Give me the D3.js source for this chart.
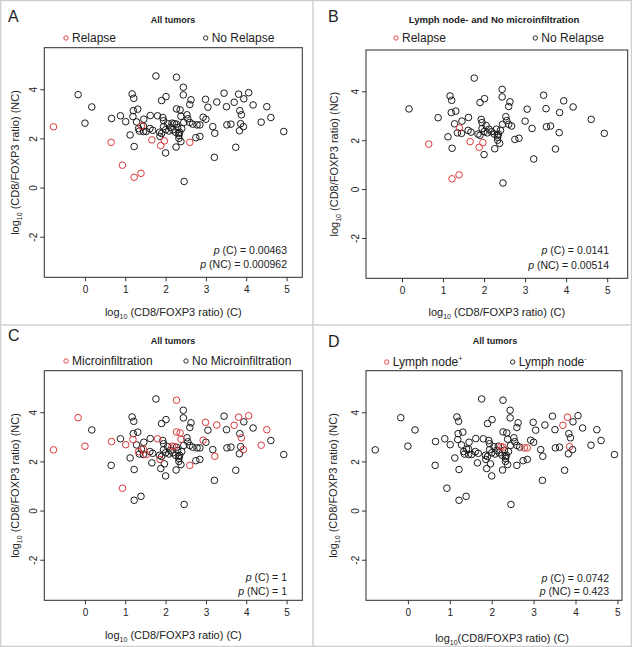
<!DOCTYPE html>
<html>
<head>
<meta charset="utf-8">
<script src="https://cdn.jsdelivr.net/npm/d3@7"></script>
<style>
    body { margin: 0; background: #fff; }
    text { font-family: "Liberation Sans", Arial, sans-serif; fill: #222; }
</style>
</head>
<body>
<svg id="main-svg" width="632" height="647"></svg>
<script>
// log10 CD8/FOXP3 ratio, cancer (C) and non-cancer (NC) tissue, one entry per tumor
let logC = [
    -0.78, -0.17, 0.00, 0.17, 0.65, 0.66, 0.88, 0.93, 1.01, 1.12,
    1.17, 1.21, 1.20, 1.19, 1.22, 1.22, 1.31, 1.28, 1.39, 1.40,
    1.35, 1.46, 1.45, 1.33, 1.45, 1.52, 1.61, 1.62, 1.66, 1.68,
    1.76, 1.80, 1.85, 1.88, 1.90, 1.86, 1.90, 1.93, 1.95, 1.97,
    2.00, 2.01, 2.00, 1.95, 2.05, 2.08, 2.12, 2.16, 2.22, 2.27,
    2.18, 2.25, 2.27, 2.27, 2.26, 2.33, 2.33, 2.35, 2.36, 2.38,
    2.38, 2.33, 2.44, 2.44, 2.46, 2.45, 2.40, 2.30, 2.53, 2.55,
    2.60, 2.63, 2.60, 2.60, 2.67, 2.75, 2.78, 2.85, 2.85, 2.93,
    2.99, 3.00, 3.05, 3.17, 3.22, 3.21, 3.27, 3.45, 3.51, 3.52,
    3.62, 3.70, 3.74, 3.81, 3.84, 3.88, 3.86, 3.83, 3.93, 3.94,
    4.06, 4.17, 4.37, 4.51, 4.61, 4.93
];
let logNC = [
    2.47, 3.78, 2.62, 3.28, 1.84, 2.81, 2.92, 0.91, 2.68, 2.14,
    3.81, 3.63, 3.13, 2.89, 1.67, 0.42, 3.19, 2.67, 0.58, 2.50,
    2.30, 2.78, 2.28, 2.40, 2.50, 2.28, 2.40, 2.93, 1.94, 2.33,
    4.54, 2.92, 2.25, 1.71, 3.54, 2.08, 2.20, 2.85, 2.72, 1.90,
    1.41, 3.70, 2.35, 2.48, 2.60, 2.30, 2.45, 2.62, 2.60, 2.58,
    2.35, 2.25, 4.49, 3.20, 1.65, 2.20, 2.12, 2.25, 3.16, 2.90,
    1.87, 2.00, 4.08, 3.77, 0.25, 2.65, 2.40, 2.45, 2.96, 2.80,
    3.38, 3.57, 1.84, 2.65, 2.58, 2.03, 2.55, 2.55, 2.08, 2.86,
    3.59, 2.78, 3.27, 2.48, 2.21, 1.23, 3.48, 3.84, 3.29, 2.55,
    2.58, 3.47, 1.64, 3.80, 3.13, 2.96, 2.60, 2.31, 2.48, 3.61,
    3.86, 3.36, 2.66, 3.29, 2.85, 2.28
];
// 1 = relapse
let relapse = [
    1, 0, 0, 0, 1, 0, 0, 1, 0, 0,
    0, 0, 0, 0, 0, 1, 0, 0, 1, 1,
    0, 0, 0, 0, 0, 0, 0, 0, 1, 0,
    0, 0, 0, 1, 0, 0, 0, 0, 0, 1,
    0, 0, 0, 0, 0, 0, 0, 0, 0, 0,
    0, 0, 0, 0, 0, 0, 0, 0, 0, 0,
    0, 0, 0, 0, 0, 0, 0, 0, 0, 0,
    0, 0, 1, 0, 0, 0, 0, 0, 0, 0,
    0, 0, 0, 0, 0, 0, 0, 0, 0, 0,
    0, 0, 0, 0, 0, 0, 0, 0, 0, 0,
    0, 0, 0, 0, 0, 0
];
// 1 = microinfiltration
let micro = [
    1, 1, 1, 0, 0, 1, 0, 1, 1, 0,
    0, 0, 0, 1, 0, 0, 0, 0, 0, 0,
    0, 0, 0, 1, 1, 1, 0, 0, 0, 0,
    0, 1, 0, 0, 0, 1, 0, 0, 0, 0,
    0, 0, 0, 0, 0, 0, 0, 1, 1, 0,
    0, 0, 1, 1, 0, 0, 0, 0, 1, 1,
    0, 0, 0, 0, 0, 0, 0, 0, 0, 0,
    0, 0, 1, 0, 0, 0, 0, 0, 0, 1,
    1, 0, 0, 0, 1, 0, 1, 0, 0, 0,
    0, 1, 0, 1, 0, 1, 0, 0, 1, 0,
    1, 0, 1, 1, 0, 0
];
// 1 = lymph node positive
let lymphNode = [
    0, 0, 0, 0, 0, 0, 0, 0, 0, 0,
    0, 0, 0, 0, 0, 0, 0, 0, 0, 0,
    0, 0, 0, 0, 0, 0, 0, 0, 0, 0,
    0, 0, 0, 0, 0, 0, 0, 0, 0, 0,
    0, 0, 0, 0, 0, 0, 0, 0, 1, 1,
    0, 0, 0, 0, 0, 0, 0, 0, 0, 0,
    0, 0, 0, 0, 0, 0, 0, 0, 0, 0,
    0, 0, 0, 0, 0, 0, 1, 1, 0, 0,
    0, 0, 0, 0, 0, 0, 0, 0, 0, 0,
    0, 1, 0, 1, 0, 0, 1, 0, 0, 0,
    0, 0, 0, 0, 0, 0
];

let X_TICKS = [0, 1, 2, 3, 4, 5];
let Y_TICKS = [-2, 0, 2, 4];
let Y_DOMAIN = [-3.65, 5.69];

let RED = '#dc3a3c';
let BLACK = '#1c1c1c';

// panel layout: box = [left, top, right, bottom] in px
let PANELS = [
    {
        letter: 'A', lx: 8, ly: 22,
        title: 'All tumors', tx: 173, ty: 23, tsize: 9,
        box: [44.3, 47.7, 302.3, 277.3], xDomain: [-1.008, 5.39],
        group: 'relapse', subset: 'all',
        legend: [{ label: 'Relapse', x: 66, red: true }, { label: 'No Relapse', x: 205.7 }], legY: 38,
        pvals: ['(C) = 0.00463', '(NC) = 0.000962'], px: 287, py: [254, 268],
        yLabX: 19, xLabY: 316, xLabText: '  (CD8/FOXP3 ratio) (C)', xLabShift: 0
    },
    {
        letter: 'B', lx: 328, ly: 22,
        title: 'Lymph node- and No microinfiltration', tx: 494, ty: 23, tsize: 9.6,
        box: [366, 50, 627.7, 278.3], xDomain: [-0.878, 5.50],
        group: 'relapse', subset: 'negative',
        legend: [{ label: 'Relapse', x: 396, red: true }, { label: 'No Relapse', x: 535.3 }], legY: 38,
        pvals: ['(C) = 0.0141', '(NC) = 0.00514'], px: 609, py: [254, 269],
        yLabX: 338, xLabY: 316, xLabText: ' (CD8/FOXP3 ratio) (C)', xLabShift: 0
    },
    {
        letter: 'C', lx: 8, ly: 341,
        title: 'All tumors', tx: 173, ty: 344, tsize: 9,
        box: [44.3, 370.7, 302.3, 600.3], xDomain: [-1.008, 5.39],
        group: 'micro', subset: 'all',
        legend: [{ label: 'Microinfiltration', x: 66, red: true }, { label: 'No Microinfiltration', x: 186 }], legY: 361,
        pvals: ['(C) = 1', '(NC) =  1'], px: 287, py: [581, 595],
        yLabX: 19, xLabY: 639, xLabText: ' (CD8/FOXP3 ratio) (C)', xLabShift: 0
    },
    {
        letter: 'D', lx: 328, ly: 347,
        title: 'All tumors', tx: 495, ty: 344, tsize: 9,
        box: [366, 370.7, 622, 600.3], xDomain: [-1.0, 5.11],
        group: 'lymph', subset: 'all',
        legend: [{ label: 'Lymph node', sup: '+', x: 386.7, red: true }, { label: 'Lymph node', sup: '-', x: 512.7 }], legY: 362,
        pvals: ['(C) = 0.0742', '(NC) = 0.423'], px: 609, py: [582, 595],
        yLabX: 337, xLabY: 642, xLabText: '(CD8/FOXP3 ratio) (C)', xLabShift: 8
    }
];

let tumors = logC.map((c, i) => ({
    c: c,
    nc: logNC[i],
    relapse: relapse[i] === 1,
    micro: micro[i] === 1,
    lymph: lymphNode[i] === 1
}));

let svg = d3.select('#main-svg');

// grey panel frames
svg.append('rect')
    .attr('x', 0.5).attr('y', 0.5).attr('width', 631).attr('height', 646)
    .attr('fill', 'none').attr('stroke', '#cfcfcf').attr('stroke-width', 1.5);
svg.append('line').attr('x1', 313).attr('x2', 313).attr('y1', 0).attr('y2', 647)
    .attr('stroke', '#cfcfcf').attr('stroke-width', 1.5);
svg.append('line').attr('x1', 0).attr('x2', 632).attr('y1', 325).attr('y2', 325)
    .attr('stroke', '#cfcfcf').attr('stroke-width', 1.5);

function isRed(d, group) {
    if (group === 'relapse') return d.relapse;
    if (group === 'micro') return d.micro;
    return d.lymph;
}

// "log" with a subscript 10, then the rest of the label
function logLabel(sel, rest) {
    sel.append('tspan').text('log');
    sel.append('tspan').attr('font-size', 7).attr('dy', 3).text('10');
    sel.append('tspan').attr('dy', -3).text(rest);
}

PANELS.forEach(p => {
    let g = svg.append('g');
    let [x0, y0, x1, y1] = p.box;
    let x = d3.scaleLinear().domain(p.xDomain).range([x0, x1]);
    let y = d3.scaleLinear().domain(Y_DOMAIN).range([y1, y0]);

    g.append('text').attr('x', p.lx).attr('y', p.ly)
        .attr('font-size', 16).text(p.letter);
    g.append('text').attr('x', p.tx).attr('y', p.ty)
        .attr('font-size', p.tsize).attr('font-weight', 'bold')
        .attr('text-anchor', 'middle').text(p.title);

    // legend
    p.legend.forEach(item => {
        let color = item.red ? RED : BLACK;
        g.append('circle').attr('cx', item.x).attr('cy', p.legY).attr('r', 2.2)
            .attr('fill', 'none').attr('stroke', color).attr('stroke-width', 0.9);
        let t = g.append('text').attr('x', item.x + 6).attr('y', p.legY + 4.3)
            .attr('font-size', 12).text(item.label);
        if (item.sup) {
            t.append('tspan').attr('font-size', 7).attr('dy', -5).text(item.sup);
        }
    });

    // axes
    let xAxis = g.append('g').attr('transform', `translate(0,${y1})`)
        .call(d3.axisBottom(x).tickValues(X_TICKS).tickSize(4).tickPadding(5).tickFormat(d => String(d)));
    let yAxis = g.append('g').attr('transform', `translate(${x0},0)`)
        .call(d3.axisLeft(y).tickValues(Y_TICKS).tickSize(4).tickFormat(d => String(d)));
    [xAxis, yAxis].forEach(a => {
        a.select('.domain').remove();
        a.selectAll('line').attr('stroke', '#333');
        a.selectAll('text').attr('font-size', 10).attr('fill', '#222')
            .style('font-family', '"Liberation Sans", Arial, sans-serif');
    });
    yAxis.selectAll('text')
        .attr('x', 0).attr('y', -7).attr('dy', 0)
        .attr('text-anchor', 'middle').attr('transform', 'rotate(-90)');

    // box
    g.append('rect').attr('x', x0).attr('y', y0)
        .attr('width', x1 - x0).attr('height', y1 - y0)
        .attr('fill', 'none').attr('stroke', '#2a2a2a').attr('stroke-width', 1);

    // axis titles
    let yl = g.append('text').attr('font-size', 11).attr('text-anchor', 'middle')
        .attr('transform', `translate(${p.yLabX},${(y0 + y1) / 2}) rotate(-90)`);
    logLabel(yl, '  (CD8/FOXP3 ratio) (NC)');
    let xl = g.append('text').attr('font-size', 11).attr('text-anchor', 'middle')
        .attr('x', (x0 + x1) / 2 + p.xLabShift).attr('y', p.xLabY);
    logLabel(xl, p.xLabText);

    // p values
    p.pvals.forEach((txt, i) => {
        let t = g.append('text').attr('x', p.px).attr('y', p.py[i])
            .attr('font-size', 10.5).attr('text-anchor', 'end');
        t.append('tspan').attr('font-style', 'italic').text('p');
        t.append('tspan').text(' ' + txt);
    });

    // points: black first, red on top
    let data = p.subset === 'all' ? tumors : tumors.filter(d => !d.micro && !d.lymph);
    data = data.slice().sort((a, b) => isRed(a, p.group) - isRed(b, p.group));
    g.selectAll('circle.pt').data(data).enter().append('circle')
        .attr('class', 'pt')
        .attr('cx', d => x(d.c))
        .attr('cy', d => y(d.nc))
        .attr('r', 3.3)
        .attr('fill', 'none')
        .attr('stroke', d => isRed(d, p.group) ? RED : BLACK)
        .attr('stroke-width', 1);
});
</script>
</body>
</html>
